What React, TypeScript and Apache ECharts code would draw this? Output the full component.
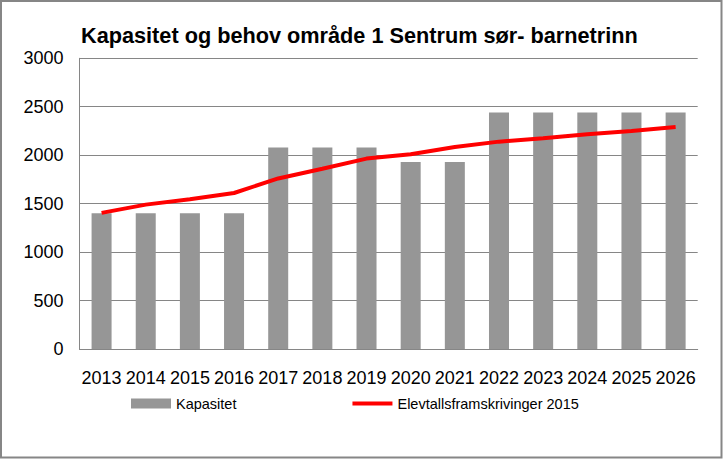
import React, { useEffect, useRef } from "react";
import * as echarts from "echarts";

const categories = ["2013","2014","2015","2016","2017","2018","2019","2020","2021","2022","2023","2024","2025","2026"];
const kapasitet = [1400,1400,1400,1400,2080,2080,2080,1930,1930,2440,2440,2440,2440,2440];
const elevtall = [1405,1490,1545,1610,1760,1860,1965,2010,2085,2140,2175,2215,2250,2290];
const titleText = "Kapasitet og behov område 1 Sentrum sør- barnetrinn";

export default function App() {
  const ref = useRef<HTMLDivElement>(null);
  useEffect(() => {
    const chart = echarts.init(ref.current!, null, { renderer: "svg" });
    const font = "'Liberation Sans', Arial, sans-serif";
    chart.setOption({
      animation: false,
      backgroundColor: "#fff",
      textStyle: { fontFamily: font },
      title: {
        text: titleText,
        left: 76,
        top: 19,
        textStyle: { fontSize: 21.7, fontWeight: "bold", color: "#000", fontFamily: font },
      },
      grid: { left: 79.5, right: 25.3, top: 58.3, bottom: 110 },
      legend: {
        left: 126,
        top: 391,
        itemWidth: 40,
        itemHeight: 10,
        itemGap: 116,
        textStyle: { fontSize: 14.5, color: "#000", fontFamily: font },
        data: [
          { name: "Kapasitet", icon: "rect" },
          {
            name: "Elevtallsframskrivinger 2015",
            icon: "path://M0,0 L40,0 L40,4 L0,4 Z",
            itemStyle: { color: "#ff0000" },
          },
        ],
      },
      xAxis: {
        type: "category",
        data: categories,
        axisLine: { lineStyle: { color: "#868686", width: 1 } },
        axisTick: { show: false },
        axisLabel: { interval: 0, fontSize: 18, color: "#000", margin: 20, fontFamily: font },
      },
      yAxis: {
        type: "value",
        min: 0,
        max: 3000,
        interval: 500,
        axisLine: { show: true, lineStyle: { color: "#868686", width: 1 } },
        axisTick: { show: false },
        axisLabel: {
          fontSize: 18,
          color: "#000",
          margin: 16,
          fontFamily: font,
          formatter: (v: number) => String(v),
        },
        splitLine: { lineStyle: { color: "#868686", width: 1 } },
      },
      series: [
        {
          name: "Kapasitet",
          type: "bar",
          data: kapasitet,
          barWidth: 20,
          itemStyle: { color: "#969696" },
        },
        {
          name: "Elevtallsframskrivinger 2015",
          type: "line",
          data: elevtall,
          symbol: "none",
          lineStyle: { color: "#ff0000", width: 4 },
          itemStyle: { color: "#ff0000" },
        },
      ],
      graphic: [
        {
          type: "rect",
          shape: { x: 1, y: 1, width: 720.5, height: 456.5 },
          style: { fill: "none", stroke: "#868686", lineWidth: 2 },
          silent: true,
        },
      ],
    });
    return () => chart.dispose();
  }, []);
  return (
    <div
      ref={ref}
      style={{ position: "fixed", left: 0, top: 0, width: 723, height: 459 }}
    />
  );
}
